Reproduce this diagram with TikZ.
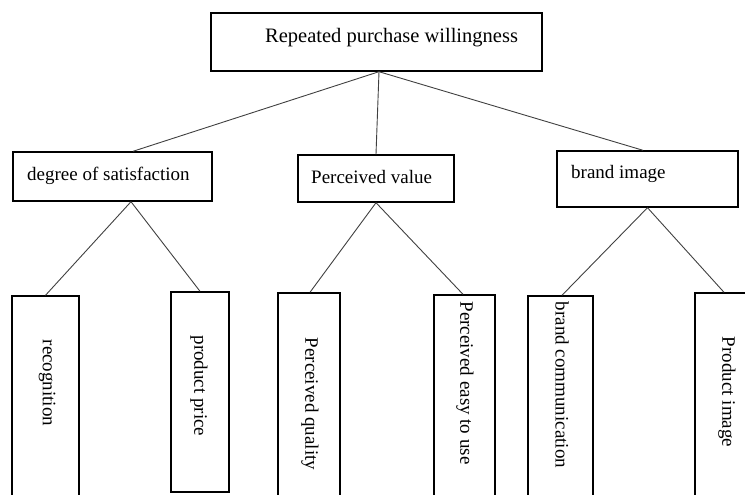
\documentclass[tikz,border=0pt]{standalone}
\usepackage{fontspec}
\setmainfont{Liberation Serif}
\begin{document}
\begin{tikzpicture}[x=1pt,y=-1pt,
  box/.style={draw=black, line width=1.4pt, fill=white, rectangle, inner sep=0pt},
  lbl/.style={font=\fontsize{19}{22}\selectfont, inner sep=0pt},
  toplbl/.style={font=\fontsize{20.5}{24}\selectfont, inner sep=0pt},
  vlbl/.style={lbl, rotate=-90},
  link/.style={draw=black!75, line width=0.9pt}]
\useasboundingbox (0,0) rectangle (745,495);
\clip (0,0) rectangle (745,495);

% boxes
\node[box, minimum width=331pt, minimum height=58pt] (top) at (376.5,42) {};
\node[box, minimum width=199pt, minimum height=49pt] (deg) at (112.5,176.5) {};
\node[box, minimum width=156pt, minimum height=47pt] (pv) at (376,178.5) {};
\node[box, minimum width=181pt, minimum height=56pt] (br) at (647.5,179) {};
\node[box, minimum width=67pt, minimum height=209pt] (rec) at (45.5,400.5) {};
\node[box, minimum width=58pt, minimum height=200pt] (pp) at (200,392) {};
\node[box, minimum width=62pt, minimum height=212pt] (pq) at (309,399) {};
\node[box, minimum width=61pt, minimum height=210pt] (pe) at (464.5,400) {};
\node[box, minimum width=65pt, minimum height=209pt] (bc) at (560.5,400.5) {};
\node[box, minimum width=70pt, minimum height=212pt] (pi) at (730,399) {};

% connectors
\draw[link] ([xshift=2.5pt]top.south) -- ([xshift=20.5pt]deg.north);
\draw[link] ([xshift=2.5pt]top.south) -- (pv.north);
\draw[link] ([xshift=2.5pt]top.south) -- ([xshift=-4.5pt]br.north);
\draw[link] ([xshift=18.5pt]deg.south) -- (rec.north);
\draw[link] ([xshift=18.5pt]deg.south) -- (pp.north);
\draw[link] (pv.south) -- ([xshift=1pt]pq.north);
\draw[link] (pv.south) -- ([xshift=-1.5pt]pe.north);
\draw[link] (br.south) -- ([xshift=1.5pt]bc.north);
\draw[link] (br.south) -- ([xshift=-6pt]pi.north);

% labels
\node[toplbl, anchor=base west] (ttop) at (265,43) {Repeated purchase willingness};
\node[lbl, anchor=base west] (tdeg) at (27,180) {degree of satisfaction};
\node[lbl, anchor=base west] (tpv) at (311,183) {Perceived value};
\node[lbl, anchor=base west] (tbr) at (571,178) {brand image};
\node[vlbl] (trec) at (47,383) {recognition};
\node[vlbl] (tpp) at (199,386) {product price};
\node[vlbl] (tpq) at (310,404) {Perceived quality};
\node[vlbl] (tpe) at (465,383) {Perceived easy to use};
\node[vlbl] (tbc) at (562,385) {brand communication};
\node[vlbl] (tpi) at (727,392) {Product image};
\end{tikzpicture}
\end{document}
